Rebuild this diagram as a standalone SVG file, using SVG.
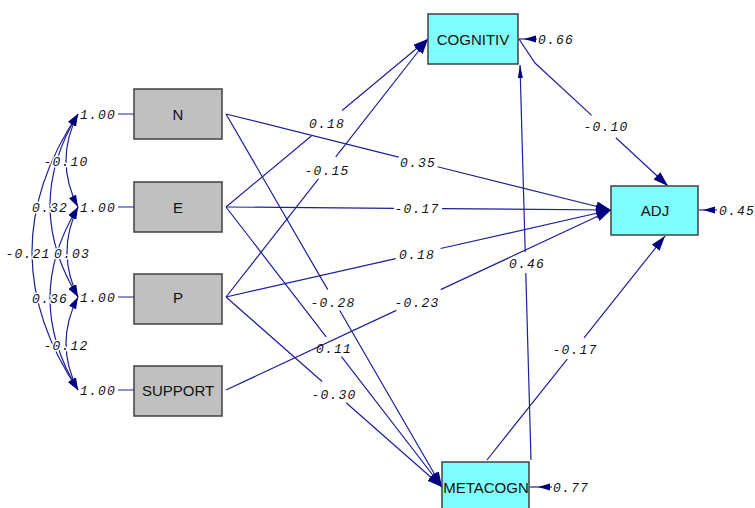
<svg xmlns="http://www.w3.org/2000/svg" width="755" height="508" viewBox="0 0 755 508">
<style>
.bg{fill:#ffffff}
.gray{fill:#c0c0c0;stroke:#404040;stroke-width:1.5}
.cyan{fill:#80ffff;stroke:#404040;stroke-width:1.5}
.nt{font-family:"Liberation Sans",Arial,sans-serif;font-size:15px;fill:#111;text-anchor:middle}
.e{fill:none;stroke:#1f1f99;stroke-width:1.2}
.lb{font-family:"Liberation Mono","DejaVu Sans Mono",monospace;font-style:italic;font-size:13px;fill:#111;letter-spacing:1.2px;text-anchor:middle}
.lbs{font-family:"Liberation Mono","DejaVu Sans Mono",monospace;font-style:italic;font-size:13px;fill:#111;letter-spacing:1.2px}
.halo{paint-order:stroke;stroke:#ffffff;stroke-width:3px;stroke-linejoin:round}
.ah{fill:#000080}
</style>
<defs>
<marker id="big" markerUnits="userSpaceOnUse" markerWidth="15" markerHeight="10" refX="15" refY="5" orient="auto" viewBox="0 0 15 10">
<path d="M0,0 L15,5 L0,10 z" class="ah"/>
</marker>
<marker id="thin" markerUnits="userSpaceOnUse" markerWidth="13" markerHeight="5" refX="13" refY="2.5" orient="auto" viewBox="0 0 13 5">
<path d="M0,0 L13,2.5 L0,5 z" class="ah"/>
</marker>
<marker id="sm" markerUnits="userSpaceOnUse" markerWidth="12" markerHeight="8" refX="12" refY="4" orient="auto-start-reverse" viewBox="0 0 12 8">
<path d="M0,0 L12,4 L0,8 z" class="ah"/>
</marker>
</defs>
<rect class="bg" x="0" y="0" width="755" height="508"/>

<g id="connectors">
<!-- covariance arcs -->
<path class="e" d="M78,114 Q54,160.5 78,207" marker-start="url(#sm)" marker-end="url(#sm)"/>
<path class="e" d="M78,114 Q22,205.5 78,297" marker-start="url(#sm)" marker-end="url(#sm)"/>
<path class="e" d="M78,114 Q-14,252 78,390" marker-start="url(#sm)" marker-end="url(#sm)"/>
<path class="e" d="M78,207 Q56,252 78,297" marker-start="url(#sm)" marker-end="url(#sm)"/>
<path class="e" d="M78,207 Q22,298.5 78,390" marker-start="url(#sm)" marker-end="url(#sm)"/>
<path class="e" d="M78,297 Q54,343.5 78,390" marker-start="url(#sm)" marker-end="url(#sm)"/>
<!-- variance stubs -->
<path class="e" d="M118,114 H134 M118,207 H134 M118,297 H134 M118,390 H134"/>
<!-- paths -->
<path class="e" d="M226,114 L611,210" stroke-dasharray="178 40 400" marker-end="url(#big)"/>
<path class="e" d="M226,207 L611,210" stroke-dasharray="168 48 400" marker-end="url(#big)"/>
<path class="e" d="M226,297 L611,210" stroke-dasharray="174 46 400" marker-end="url(#big)"/>
<path class="e" d="M226,390 L611,210" stroke-dasharray="188 49 400" marker-end="url(#big)"/>
<path class="e" d="M226,207 L428,39" stroke-dasharray="111 40 400" marker-end="url(#big)"/>
<path class="e" d="M226,297 L428,39" stroke-dasharray="150 28 400" marker-end="url(#big)"/>
<path class="e" d="M226,114 L442,487" stroke-dasharray="203 24 400" marker-end="url(#big)"/>
<path class="e" d="M226,207 L442,487" stroke-dasharray="164 25 400" marker-end="url(#big)"/>
<path class="e" d="M226,297 L442,487" stroke-dasharray="128 32 400" marker-end="url(#big)"/>
<path class="e" d="M519,39 L535,63 L668,186" stroke-dasharray="106 33 400" marker-end="url(#big)"/>
<path class="e" d="M487,460 L665,236" stroke-dasharray="129 27 400" marker-end="url(#big)"/>
<path class="e" d="M531,460 L520,65" stroke-dasharray="187 21 400" marker-end="url(#thin)"/>
<!-- error arrows -->
<path class="e" d="M519,39 H537"/>
<polygon class="ah" points="524,39 536,35.5 536,42.5"/>
<path class="e" d="M699,210 H717"/>
<polygon class="ah" points="703,210 715,206.5 715,213.5"/>
<path class="e" d="M530,487 H552"/>
<polygon class="ah" points="538,487 550,483.5 550,490.5"/>
</g>

<g id="labels">
<text class="lb halo" x="66" y="165.5">-0.10</text>
<text class="lb halo" x="50" y="211.5">0.32</text>
<text class="lb halo" x="72" y="257.5">0.03</text>
<text class="lb halo" x="28" y="257.5">-0.21</text>
<text class="lb halo" x="50" y="302.5">0.36</text>
<text class="lb halo" x="66" y="349.5">-0.12</text>
<text class="lbs" x="80" y="118.5">1.00</text>
<text class="lbs" x="80" y="211.5">1.00</text>
<text class="lbs" x="80" y="301.5">1.00</text>
<text class="lbs" x="80" y="394.5">1.00</text>
<text class="lb" x="418" y="166.5">0.35</text>
<text class="lb" x="417" y="212.5">-0.17</text>
<text class="lb" x="417" y="258.5">0.18</text>
<text class="lb" x="417" y="306.5">-0.23</text>
<text class="lb" x="327" y="127.5">0.18</text>
<text class="lb" x="327" y="174.5">-0.15</text>
<text class="lb" x="333" y="306.5">-0.28</text>
<text class="lb" x="334" y="352.5">0.11</text>
<text class="lb" x="334" y="398.5">-0.30</text>
<text class="lb" x="606" y="130.5">-0.10</text>
<text class="lb" x="575" y="353.5">-0.17</text>
<text class="lb" x="527" y="267.5">0.46</text>
<text class="lbs" x="538" y="43.5">0.66</text>
<text class="lbs" x="719" y="214.5">0.45</text>
<text class="lbs" x="553" y="491.5">0.77</text>
</g>

<g id="node-N"><rect class="gray" x="134" y="89" width="88" height="50"/><text class="nt" x="178" y="120">N</text></g>
<g id="node-E"><rect class="gray" x="134" y="182" width="88" height="50"/><text class="nt" x="178" y="213">E</text></g>
<g id="node-P"><rect class="gray" x="134" y="274" width="88" height="50"/><text class="nt" x="178" y="303">P</text></g>
<g id="node-SUPPORT"><rect class="gray" x="134" y="366" width="88" height="50"/><text class="nt" x="178" y="396">SUPPORT</text></g>
<g id="node-COGNITIV"><rect class="cyan" x="428" y="14" width="90" height="50"/><text class="nt" x="473" y="45">COGNITIV</text></g>
<g id="node-ADJ"><rect class="cyan" x="611" y="186" width="87" height="49"/><text class="nt" x="655" y="216">ADJ</text></g>
<g id="node-METACOGN"><rect class="cyan" x="442" y="462" width="87" height="50"/><text class="nt" x="486" y="493">METACOGN</text></g>
</svg>
